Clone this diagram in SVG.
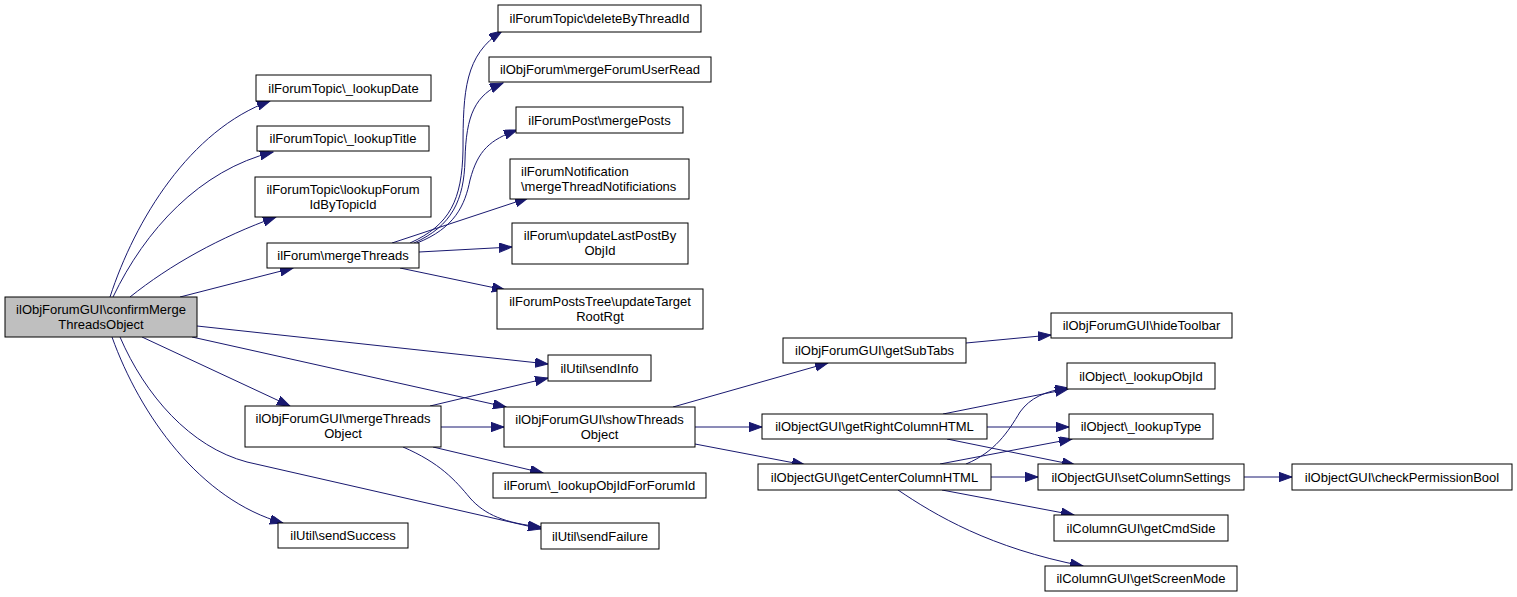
<svg xmlns="http://www.w3.org/2000/svg" width="1517" height="597" viewBox="0 0 1517 597">
<defs>
<marker id="arr" markerUnits="userSpaceOnUse" markerWidth="14" markerHeight="10" refX="13" refY="4.65" orient="auto">
<path d="M0,0 L13,4.65 L0,9.3 z" fill="#191970" stroke="#191970" stroke-width="1"/>
</marker>
<style>
.node rect{fill:#ffffff;stroke:#000000;stroke-width:1}
.node.root rect{fill:#bfbfbf}
.node text{font-family:"Liberation Sans",Arial,Helvetica,sans-serif;font-size:13px;fill:#000000;text-anchor:middle}
.node text.l{text-anchor:start}
#edges path{fill:none;stroke:#191970;stroke-width:1;marker-end:url(#arr)}
</style>
</defs>
<rect x="0" y="0" width="1517" height="597" fill="#ffffff"/>
<g id="edges">
<path d="M110,297 C135,220 190,130 270,101"/>
<path d="M113,297 C145,230 200,170 273,152"/>
<path d="M130,297 C170,265 220,237 276,217"/>
<path d="M180,297 L293,268"/>
<path d="M197,326 L548,364"/>
<path d="M192,337 L506,407"/>
<path d="M142,337 L290,406"/>
<path d="M120,337 C145,395 190,447 247,462 C345,484 443,507 541,529"/>
<path d="M112,337 C140,415 200,500 283,523"/>
<path d="M410,243 C450,225 462,200 463,150 C463,90 465,55 502,31"/>
<path d="M414,243 C452,226 464,200 465,160 C466,115 475,95 503,83"/>
<path d="M417,243 C455,228 465,205 470,180 C478,150 490,140 517,130"/>
<path d="M392,243 L528,198"/>
<path d="M419,252 L512,247"/>
<path d="M400,268 L505,290"/>
<path d="M430,406 L548,378"/>
<path d="M441,427 L504,427"/>
<path d="M433,447 L543,473"/>
<path d="M403,447 C440,463 455,480 470,498 C485,515 505,523 541,527"/>
<path d="M673,407 L828,363"/>
<path d="M695,427 L762,427"/>
<path d="M695,444 L805,465"/>
<path d="M966,343 L1051,335"/>
<path d="M943,414 L1068,389"/>
<path d="M987,427 L1069,427"/>
<path d="M947,439 L1075,465"/>
<path d="M966,464 C995,452 1008,432 1020,412 C1030,398 1045,391 1068,388"/>
<path d="M940,464 L1072,439"/>
<path d="M991,477 L1038,477"/>
<path d="M942,490 L1074,515"/>
<path d="M898,490 C935,515 990,548 1083,566"/>
<path d="M1244,477 L1292,477"/>
</g>
<g id="n1" class="node root"><rect x="5" y="297" width="192" height="40"/><text x="101" y="313.5">ilObjForumGUI\confirmMerge</text><text x="101" y="328.5">ThreadsObject</text></g>
<g id="n2" class="node"><rect x="256" y="75" width="175" height="26"/><text x="343.5" y="92.5">ilForumTopic\_lookupDate</text></g>
<g id="n3" class="node"><rect x="257" y="126" width="172" height="25"/><text x="343" y="143">ilForumTopic\_lookupTitle</text></g>
<g id="n4" class="node"><rect x="255" y="177" width="176" height="40"/><text x="343" y="193.5">ilForumTopic\lookupForum</text><text x="343" y="208.5">IdByTopicId</text></g>
<g id="n5" class="node"><rect x="267" y="243" width="152" height="25"/><text x="343" y="260">ilForum\mergeThreads</text></g>
<g id="n6" class="node"><rect x="245" y="406" width="196" height="41"/><text x="343" y="422.5">ilObjForumGUI\mergeThreads</text><text x="343" y="437.5">Object</text></g>
<g id="n7" class="node"><rect x="278" y="523" width="130" height="25"/><text x="343" y="540">ilUtil\sendSuccess</text></g>
<g id="n8" class="node"><rect x="498" y="5" width="203" height="27"/><text x="599.5" y="23">ilForumTopic\deleteByThreadId</text></g>
<g id="n9" class="node"><rect x="489" y="57" width="222" height="25"/><text x="600" y="74">ilObjForum\mergeForumUserRead</text></g>
<g id="n10" class="node"><rect x="516" y="107" width="167" height="26"/><text x="599.5" y="124.5">ilForumPost\mergePosts</text></g>
<g id="n11" class="node"><rect x="510" y="159" width="179" height="40"/><text class="l" x="521" y="175.5">ilForumNotification</text><text class="l" x="521" y="190.5">\mergeThreadNotificiations</text></g>
<g id="n12" class="node"><rect x="512" y="223" width="176" height="41"/><text x="600" y="239.5">ilForum\updateLastPostBy</text><text x="600" y="254.5">ObjId</text></g>
<g id="n13" class="node"><rect x="497" y="289" width="206" height="40"/><text x="600" y="305.5">ilForumPostsTree\updateTarget</text><text x="600" y="320.5">RootRgt</text></g>
<g id="n14" class="node"><rect x="548" y="355" width="103" height="26"/><text x="599.5" y="372.5">ilUtil\sendInfo</text></g>
<g id="n15" class="node"><rect x="504" y="407" width="191" height="40"/><text x="599.5" y="423.5">ilObjForumGUI\showThreads</text><text x="599.5" y="438.5">Object</text></g>
<g id="n16" class="node"><rect x="493" y="473" width="213" height="25"/><text x="599.5" y="490">ilForum\_lookupObjIdForForumId</text></g>
<g id="n17" class="node"><rect x="541" y="523" width="118" height="26"/><text x="600" y="540.5">ilUtil\sendFailure</text></g>
<g id="n18" class="node"><rect x="783" y="338" width="183" height="25"/><text x="874.5" y="355">ilObjForumGUI\getSubTabs</text></g>
<g id="n19" class="node"><rect x="762" y="414" width="225" height="25"/><text x="874.5" y="431">ilObjectGUI\getRightColumnHTML</text></g>
<g id="n20" class="node"><rect x="758" y="464" width="233" height="26"/><text x="874.5" y="481.5">ilObjectGUI\getCenterColumnHTML</text></g>
<g id="n21" class="node"><rect x="1051" y="313" width="181" height="25"/><text x="1141.5" y="330">ilObjForumGUI\hideToolbar</text></g>
<g id="n22" class="node"><rect x="1067" y="363" width="148" height="26"/><text x="1141" y="380.5">ilObject\_lookupObjId</text></g>
<g id="n23" class="node"><rect x="1069" y="414" width="144" height="25"/><text x="1141" y="431">ilObject\_lookupType</text></g>
<g id="n24" class="node"><rect x="1038" y="464" width="206" height="26"/><text x="1141" y="481.5">ilObjectGUI\setColumnSettings</text></g>
<g id="n25" class="node"><rect x="1292" y="464" width="220" height="26"/><text x="1402" y="481.5">ilObjectGUI\checkPermissionBool</text></g>
<g id="n26" class="node"><rect x="1054" y="515" width="174" height="26"/><text x="1141" y="532.5">ilColumnGUI\getCmdSide</text></g>
<g id="n27" class="node"><rect x="1045" y="566" width="192" height="25"/><text x="1141" y="583">ilColumnGUI\getScreenMode</text></g>
</svg>
